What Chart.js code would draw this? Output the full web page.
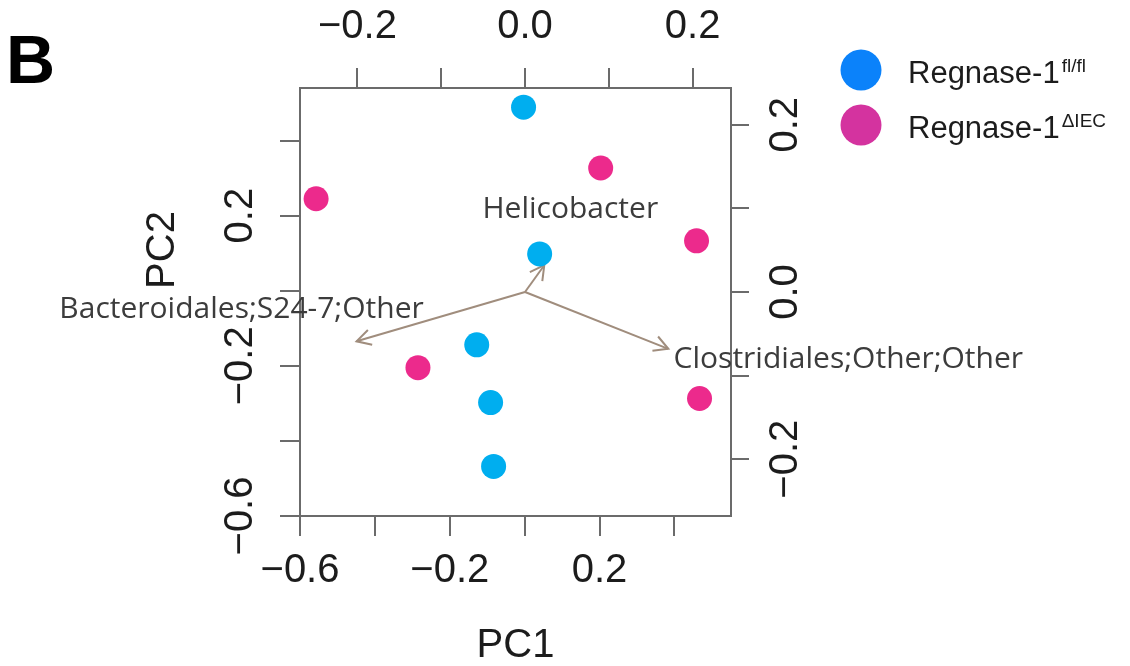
<!DOCTYPE html>
<html>
<head>
<meta charset="utf-8">
<script src="https://cdn.jsdelivr.net/npm/chart.js@4.4.1/dist/chart.umd.min.js"></script>
<style>
  html, body { margin: 0; padding: 0; background: #fff; }
  #wrap { width: 1130px; height: 666px; position: relative; }
</style>
</head>
<body>
<div id="wrap"><canvas id="biplot"></canvas></div>
<script>
// sample scores on PC1 / PC2
const flflPC1 = [-0.003, 0.040, -0.128, -0.091, -0.083];
const flflPC2 = [0.489, 0.098, -0.144, -0.298, -0.468];
const iecPC1 = [0.203, -0.557, 0.459, -0.285, 0.467];
const iecPC2 = [0.327, 0.245, 0.133, -0.205, -0.287];

// taxa loadings (top / right axes)
const taxa = ['Helicobacter', 'Bacteroidales;S24-7;Other', 'Clostridiales;Other;Other'];
const loadX = [0.023, -0.201, 0.171];
const loadY = [0.032, -0.059, -0.068];

// legend
const groupNames = ['Regnase-1', 'Regnase-1'];
const groupSups = ['fl/fl', '\u0394IEC'];

// ticks
const pcTicks = [-0.6, -0.4, -0.2, 0, 0.2, 0.4];
const pcTickLabels = [-0.6, -0.2, 0.2];
const loadTicks = [-0.2, -0.1, 0, 0.1, 0.2];
const loadTickLabels = [-0.2, 0, 0.2];

const AXIS = '#6b6b6b';
const INK = '#1c1c1c';
const BLUE = '#00aeef';
const PINK = '#ec2a8c';
const ARROW = '#a08d7d';
const SANS = '"Liberation Sans", Arial, sans-serif';

const fmt = (v) => (Math.abs(v) < 1e-9 ? '0.0' : v.toFixed(1).replace('-', '\u2212'));
const pairs = (xs, ys) => xs.map((x, i) => ({ x, y: ys[i] }));

function axis(position, min, max, ticks, labelled, size, tickOpts, tickLength = 20) {
  const vertical = position === 'left' || position === 'right';
  return {
    type: 'linear',
    position,
    min,
    max,
    afterBuildTicks: (s) => { s.ticks = ticks.map((v) => ({ value: v })); },
    afterFit: (s) => { if (vertical) s.width = size; else s.height = size; },
    border: { display: true, color: AXIS, width: 2 },
    grid: { drawOnChartArea: false, drawTicks: true, tickLength, color: AXIS, lineWidth: 2 },
    ticks: {
      autoSkip: false,
      color: INK,
      font: { family: SANS, size: 40 },
      callback: (v) => (labelled.some((l) => Math.abs(l - v) < 1e-9) ? fmt(v) : ''),
      ...tickOpts,
    },
  };
}

const biplotDecor = {
  id: 'biplotDecor',
  beforeDatasetsDraw(chart, args, opts) {
    const { ctx } = chart;
    ctx.save();
    ctx.strokeStyle = ARROW;
    ctx.lineWidth = 2;
    chart.data.datasets.forEach((ds, i) => {
      if (!ds.taxon) return;
      const [p0, p1] = chart.getDatasetMeta(i).data;
      const a = Math.atan2(p1.y - p0.y, p1.x - p0.x);
      ctx.beginPath();
      ctx.moveTo(p1.x - 16 * Math.cos(a - 0.5), p1.y - 16 * Math.sin(a - 0.5));
      ctx.lineTo(p1.x, p1.y);
      ctx.lineTo(p1.x - 16 * Math.cos(a + 0.5), p1.y - 16 * Math.sin(a + 0.5));
      ctx.stroke();
    });
    ctx.restore();
  },
  afterDatasetsDraw(chart, args, opts) {
    const { ctx } = chart;
    ctx.save();
    ctx.fillStyle = '#3c3c3c';
    ctx.font = '30px "Open Sans", sans-serif';
    ctx.textAlign = 'center';
    ctx.textBaseline = 'alphabetic';
    let k = 0;
    chart.data.datasets.forEach((ds, i) => {
      if (!ds.taxon) return;
      const tip = chart.getDatasetMeta(i).data[1];
      const [dx, dy] = opts.labelOffsets[k++];
      ctx.fillText(ds.taxon, tip.x + dx, tip.y + dy);
    });
    ctx.restore();
  },
  afterDraw(chart, args, opts) {
    const { ctx } = chart;
    ctx.save();
    // panel letter
    ctx.fillStyle = '#000';
    ctx.font = `bold 68px ${SANS}`;
    ctx.textBaseline = 'alphabetic';
    ctx.fillText('B', 6, 83);

    // PC2 title
    ctx.fillStyle = INK;
    ctx.font = `40px ${SANS}`;
    ctx.save();
    ctx.translate(163, 250);
    ctx.rotate(-Math.PI / 2);
    ctx.textAlign = 'center';
    ctx.textBaseline = 'middle';
    ctx.fillText('PC2', 0, 0);
    ctx.restore();

    // legend
    groupNames.forEach((name, i) => {
      const cy = 70 + i * 55;
      ctx.fillStyle = opts.legendColors[i];
      ctx.beginPath();
      ctx.arc(861, cy, 20.5, 0, Math.PI * 2);
      ctx.fill();
      ctx.fillStyle = INK;
      ctx.font = `31px ${SANS}`;
      ctx.fillText(name, 908, cy + 13);
      const w = ctx.measureText(name).width;
      ctx.font = `19px ${SANS}`;
      ctx.fillText(groupSups[i], 908 + w + 2, cy + 2);
    });
    ctx.restore();
  },
};

const xScale = axis('bottom', -0.6, 0.551, pcTicks, pcTickLabels, 150, { padding: 11, maxRotation: 0 });
xScale.title = {
  display: true,
  text: 'PC1',
  color: INK,
  font: { family: SANS, size: 40, lineHeight: 1 },
  padding: { top: 0, bottom: 0 },
};

new Chart(document.getElementById('biplot'), {
  type: 'scatter',
  data: {
    datasets: [
      {
        label: groupNames[0] + groupSups[0],
        data: pairs(flflPC1, flflPC2),
        xAxisID: 'x',
        yAxisID: 'y',
        backgroundColor: BLUE,
        borderWidth: 0,
        pointRadius: 12.5,
      },
      {
        label: groupNames[1] + groupSups[1],
        data: pairs(iecPC1, iecPC2),
        xAxisID: 'x',
        yAxisID: 'y',
        backgroundColor: PINK,
        borderWidth: 0,
        pointRadius: 12.5,
      },
      ...taxa.map((t, i) => ({
        label: t,
        taxon: t,
        data: [{ x: 0, y: 0 }, { x: loadX[i], y: loadY[i] }],
        xAxisID: 'x2',
        yAxisID: 'y2',
        showLine: true,
        borderColor: ARROW,
        borderWidth: 2,
        pointRadius: 0,
      })),
    ],
  },
  options: {
    responsive: true,
    maintainAspectRatio: false,
    animation: false,
    layout: { padding: 0, autoPadding: false },
    plugins: {
      legend: { display: false },
      tooltip: { enabled: false },
      biplotDecor: {
        legendColors: ['#0b82fa', '#d4339f'],
        labelOffsets: [[26, -47], [-115, -23], [180, 19]],
      },
    },
    scales: {
      x: xScale,
      y: axis('left', -0.6, 0.54, pcTicks, pcTickLabels, 300,
        { padding: 0, minRotation: 90, maxRotation: 90, crossAlign: 'center' }),
      x2: axis('top', -0.2685, 0.2458, loadTicks, loadTickLabels, 88, { padding: 17, maxRotation: 0 }),
      y2: axis('right', -0.268, 0.244, loadTicks, loadTickLabels, 399,
        { padding: -3, minRotation: 90, maxRotation: 90, crossAlign: 'center' }, 18),
    },
  },
  plugins: [biplotDecor],
});
</script>
</body>
</html>
